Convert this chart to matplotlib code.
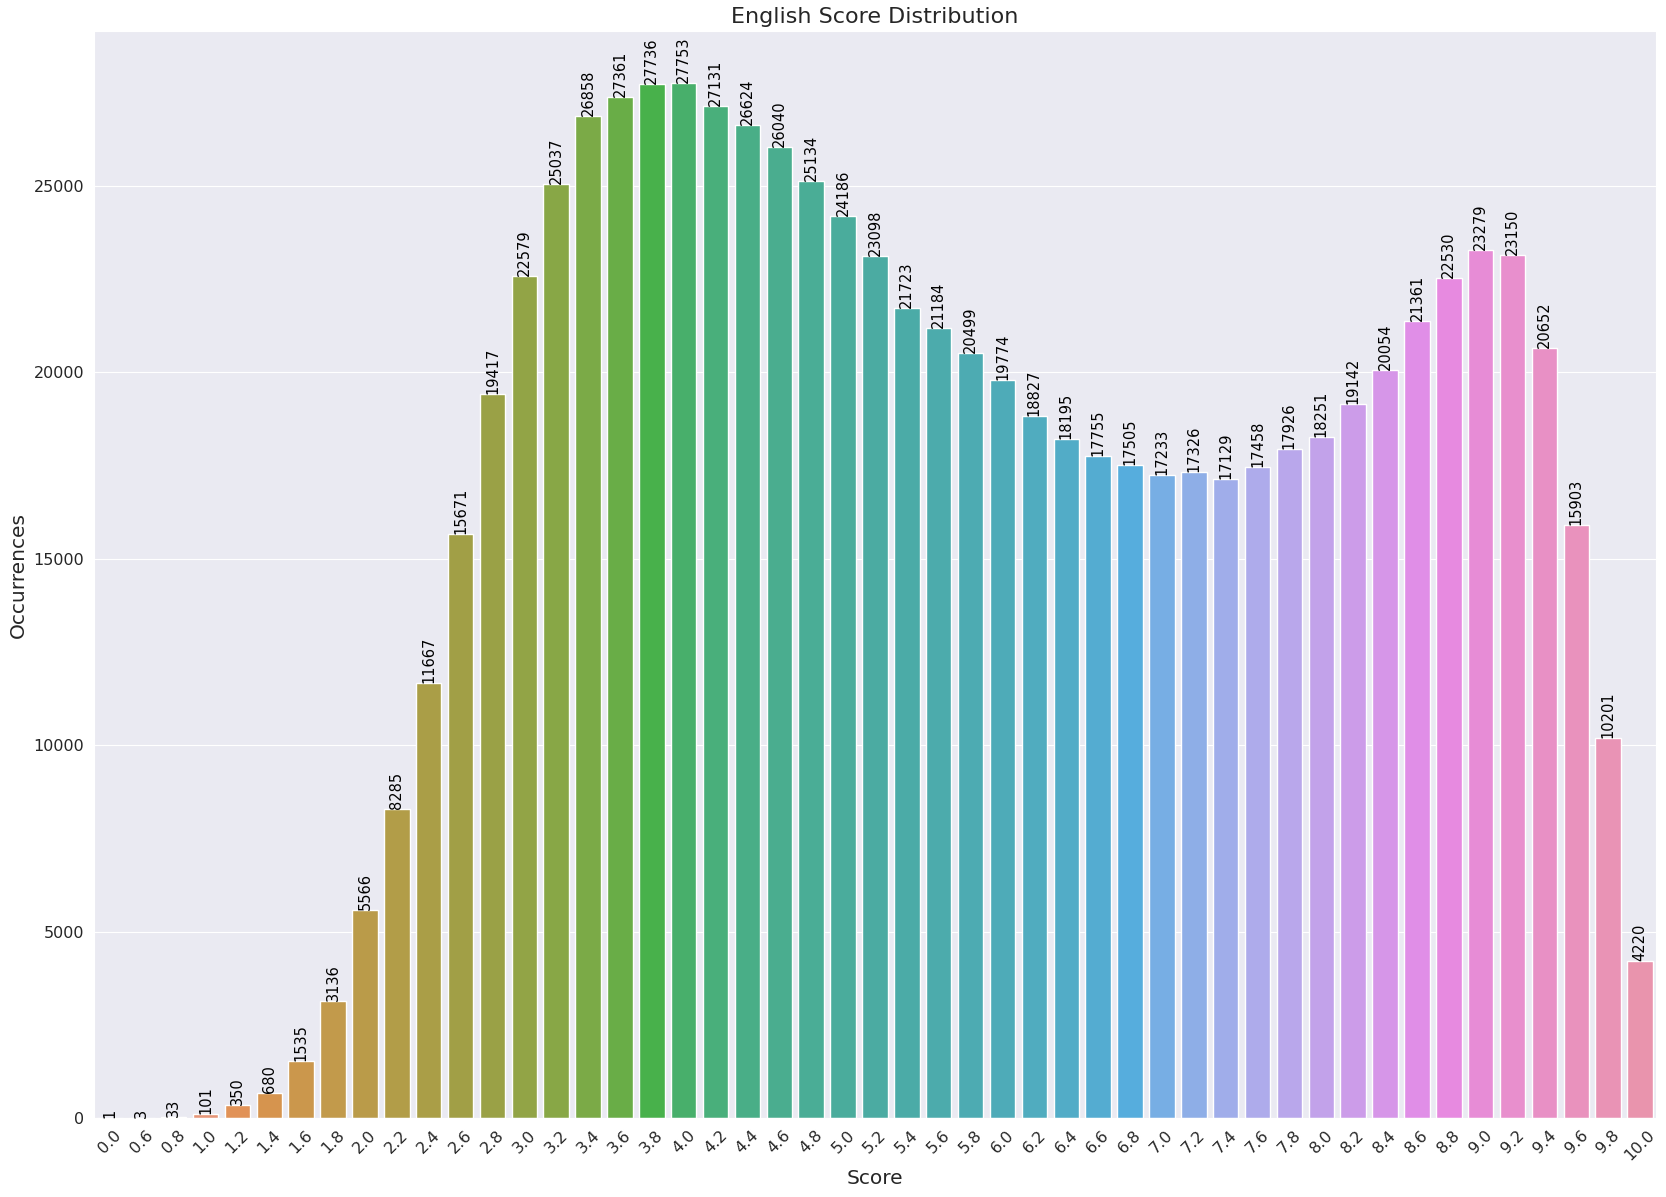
import matplotlib
matplotlib.use("Agg")
import matplotlib.pyplot as plt
import seaborn as sns

scores = ["0.0", "0.6", "0.8", "1.0", "1.2", "1.4", "1.6", "1.8", "2.0", "2.2",
          "2.4", "2.6", "2.8", "3.0", "3.2", "3.4", "3.6", "3.8", "4.0", "4.2",
          "4.4", "4.6", "4.8", "5.0", "5.2", "5.4", "5.6", "5.8", "6.0", "6.2",
          "6.4", "6.6", "6.8", "7.0", "7.2", "7.4", "7.6", "7.8", "8.0", "8.2",
          "8.4", "8.6", "8.8", "9.0", "9.2", "9.4", "9.6", "9.8", "10.0"]
occurrences = [1, 3, 33, 101, 350, 680, 1535, 3136, 5566, 8285,
               11667, 15671, 19417, 22579, 25037, 26858, 27361, 27736, 27753, 27131,
               26624, 26040, 25134, 24186, 23098, 21723, 21184, 20499, 19774, 18827,
               18195, 17755, 17505, 17233, 17326, 17129, 17458, 17926, 18251, 19142,
               20054, 21361, 22530, 23279, 23150, 20652, 15903, 10201, 4220]

sns.set_style("darkgrid")
plt.rcParams['font.family'] = ['DejaVu Sans']

# lighter husl palette (l=.7), desaturated like seaborn's barplot
colors = [sns.desaturate(c, 0.75) for c in sns.husl_palette(len(scores), l=.7)]

fig, ax = plt.subplots(figsize=(16.66, 11.97), dpi=100)
ax.bar(range(len(scores)), occurrences, width=0.8, color=colors,
       edgecolor='white', linewidth=1.0)
ax.set_xticks(range(len(scores)))
ax.set_xticklabels(scores)
ax.set_xlim(-0.5, len(scores) - 0.5)
ax.grid(axis='x', visible=False)

# count on top of each bar
for i, v in enumerate(occurrences):
    ax.text(i, v, str(v), ha='center', va='bottom', rotation=90,
            fontsize=10.5, color='black')

ax.set_title("English Score Distribution", fontsize=16)
ax.set_xlabel("Score", fontsize=14.5)
ax.set_ylabel("Occurrences", fontsize=14.5)
ax.tick_params(axis='x', labelsize=11.5, rotation=45)
ax.tick_params(axis='y', labelsize=11.5)

fig.subplots_adjust(left=0.0564, right=0.994, top=0.974, bottom=0.066)
plt.savefig("out.png")
